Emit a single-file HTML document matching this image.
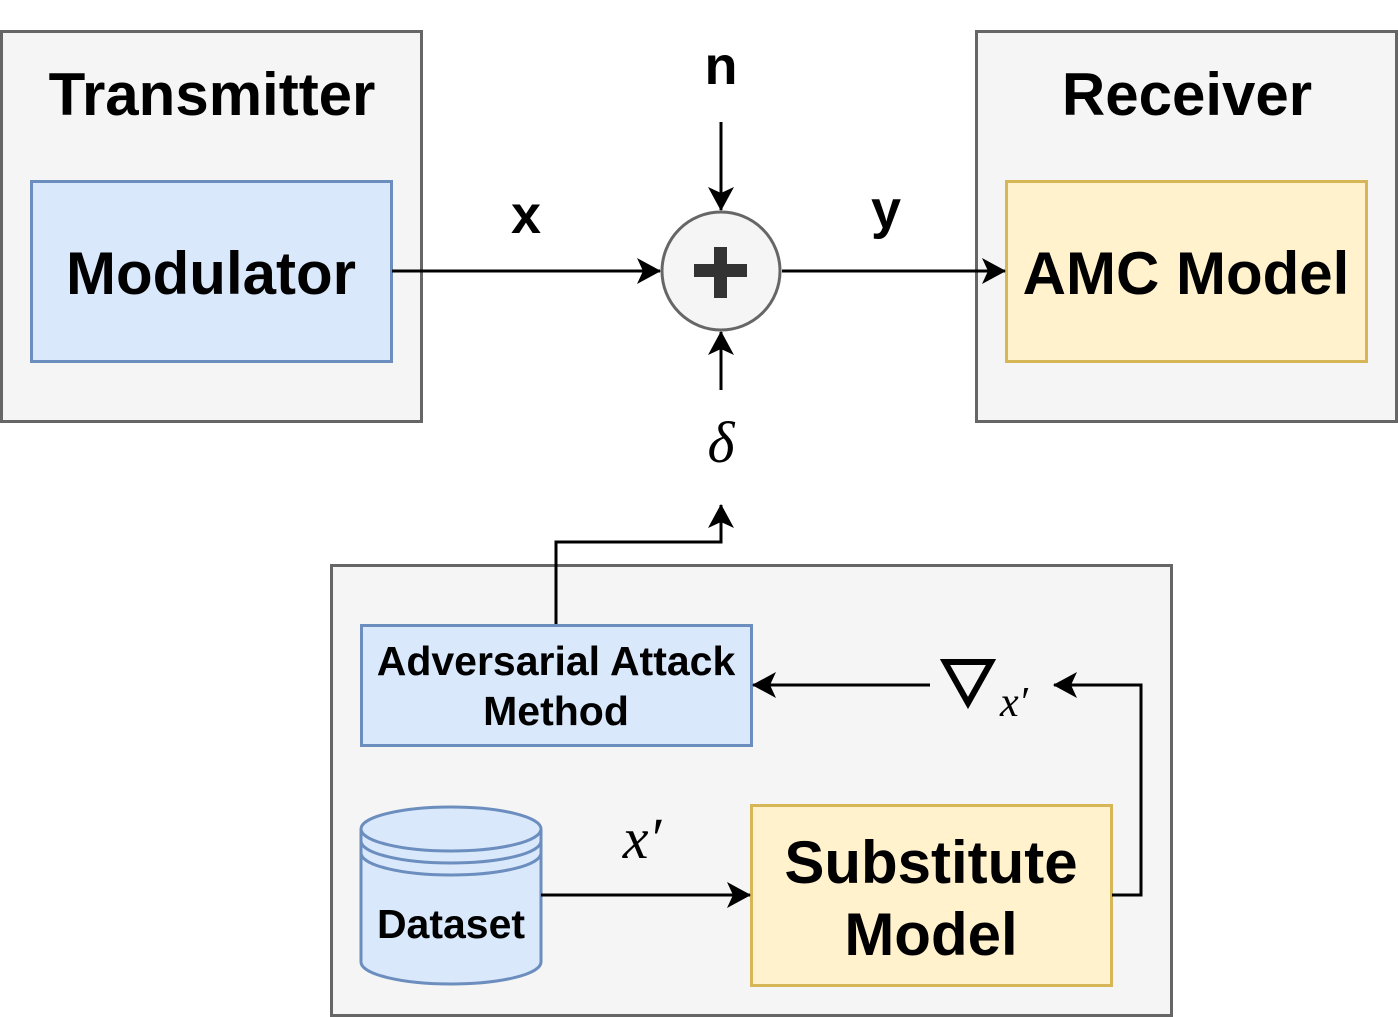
<!DOCTYPE html>
<html><head><meta charset="utf-8"><style>
html,body{margin:0;padding:0;background:#fff;}
svg{display:block;}
text{font-family:"Liberation Sans",sans-serif;font-weight:bold;fill:#000;}
.m{font-family:"Liberation Serif",serif;font-style:italic;font-weight:normal;}
</style></head><body>
<svg width="1398" height="1017" viewBox="0 0 1398 1017" xmlns="http://www.w3.org/2000/svg">
<defs>
<marker id="a" markerWidth="24" markerHeight="26" viewBox="0 0 24 26" refX="23" refY="13" orient="auto" markerUnits="userSpaceOnUse">
<path d="M0,0 L24,13 L0,26 L6,13 Z" fill="#000"/>
</marker>
</defs>
<rect x="1.5" y="31.5" width="420" height="390" fill="#f5f5f5" stroke="#666" stroke-width="3"/>
<text x="212" y="115" font-size="60" text-anchor="middle">Transmitter</text>
<rect x="31.5" y="181.5" width="360" height="180" fill="#dae8fc" stroke="#6c8ebf" stroke-width="3"/>
<text x="211" y="294" font-size="60" text-anchor="middle">Modulator</text>

<rect x="976.5" y="31.5" width="420" height="390" fill="#f5f5f5" stroke="#666" stroke-width="3"/>
<text x="1187" y="115" font-size="60" text-anchor="middle">Receiver</text>
<rect x="1006.5" y="181.5" width="360" height="180" fill="#fff2cc" stroke="#d6b656" stroke-width="3"/>
<text x="1186" y="294" font-size="60" text-anchor="middle">AMC Model</text>

<circle cx="721" cy="271" r="59" fill="#f5f5f5" stroke="#666" stroke-width="3"/>
<rect x="694" y="264" width="53" height="13" fill="#333"/>
<rect x="714" y="247" width="13" height="51" fill="#333"/>

<line x1="392" y1="271" x2="660" y2="271" stroke="#000" stroke-width="3" marker-end="url(#a)"/>
<line x1="782" y1="271" x2="1005" y2="271" stroke="#000" stroke-width="3" marker-end="url(#a)"/>
<line x1="721" y1="122" x2="721" y2="210" stroke="#000" stroke-width="3" marker-end="url(#a)"/>
<line x1="721" y1="390" x2="721" y2="332" stroke="#000" stroke-width="3" marker-end="url(#a)"/>
<text x="721" y="84" font-size="54" text-anchor="middle">n</text>
<text x="526" y="233" font-size="54" text-anchor="middle">x</text>
<text x="886" y="228" font-size="54" text-anchor="middle">y</text>
<text class="m" x="721" y="462" font-size="58" text-anchor="middle">δ</text>

<rect x="331.5" y="565.5" width="840" height="450" fill="#f5f5f5" stroke="#666" stroke-width="3"/>
<polyline points="556,625 556,542 721,542 721,505" fill="none" stroke="#000" stroke-width="3" marker-end="url(#a)"/>
<rect x="361.5" y="625.5" width="390" height="120" fill="#dae8fc" stroke="#6c8ebf" stroke-width="3"/>
<text x="556" y="675" font-size="41" text-anchor="middle">Adversarial Attack</text>
<text x="556" y="725" font-size="41" text-anchor="middle">Method</text>

<rect x="751.5" y="805.5" width="360" height="180" fill="#fff2cc" stroke="#d6b656" stroke-width="3"/>
<text x="931" y="883" font-size="60" text-anchor="middle">Substitute</text>
<text x="931" y="955" font-size="60" text-anchor="middle">Model</text>

<path d="M361,829 L361,962 A90,22 0 0 0 541,962 L541,829 A90,22 0 0 0 361,829 Z" fill="#dae8fc" stroke="#6c8ebf" stroke-width="3"/>
<path d="M361,829 A90,22 0 0 0 541,829 M361,841 A90,22 0 0 0 541,841 M361,853 A90,22 0 0 0 541,853" fill="none" stroke="#6c8ebf" stroke-width="3"/>
<text x="451" y="938" font-size="41" text-anchor="middle">Dataset</text>

<line x1="541" y1="895" x2="750" y2="895" stroke="#000" stroke-width="3" marker-end="url(#a)"/>
<text class="m" x="642" y="858" font-size="58" text-anchor="middle">x′</text>

<polyline points="1112,895 1141,895 1141,685 1054,685" fill="none" stroke="#000" stroke-width="3" marker-end="url(#a)"/>
<line x1="930" y1="685" x2="753" y2="685" stroke="#000" stroke-width="3" marker-end="url(#a)"/>
<polygon points="945,662 991,662 968,703" fill="none" stroke="#000" stroke-width="6" stroke-linejoin="miter"/>
<text class="m" x="1000" y="716" font-size="42">x′</text>
</svg>
</body></html>
